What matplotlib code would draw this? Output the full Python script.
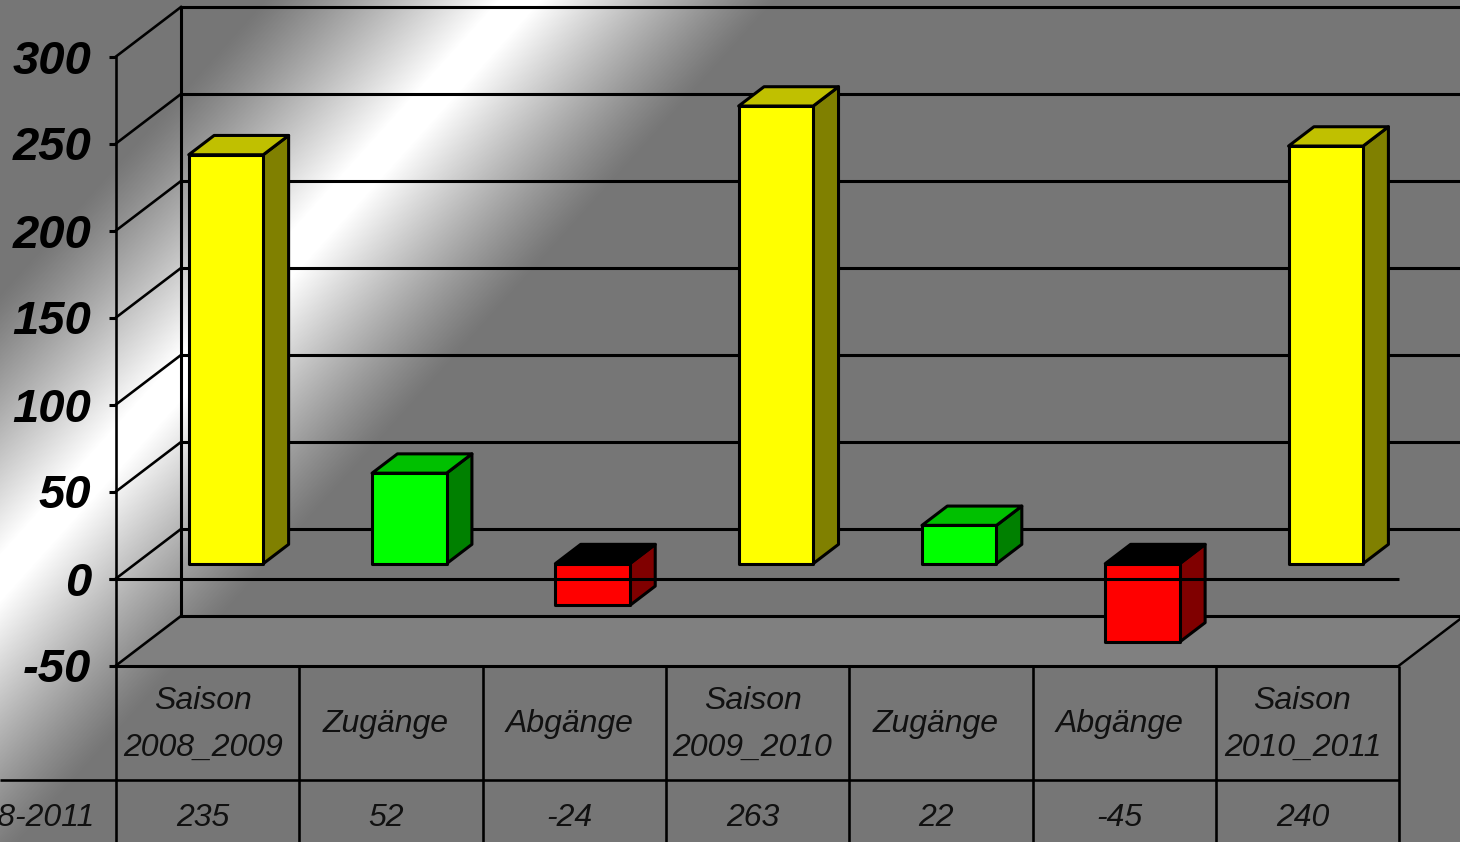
import numpy as np
import matplotlib
matplotlib.use('Agg')
import matplotlib.pyplot as plt
from matplotlib.patches import Polygon

plt.rcParams['font.family'] = ['Liberation Sans', 'DejaVu Sans']

categories = ['Saison\n2008_2009', 'Zugänge', 'Abgänge', 'Saison\n2009_2010',
              'Zugänge', 'Abgänge', 'Saison\n2010_2011']
values = [235, 52, -24, 263, 22, -45, 240]
row_label = '2008-2011'
y_ticks = [-50, 0, 50, 100, 150, 200, 250, 300]
kinds = ['season', 'in', 'out', 'season', 'in', 'out', 'season']

# front, side, top
palette = {
    'season': ('#ffff00', '#808000', '#c0c000'),
    'in': ('#00ff00', '#008000', '#00c000'),
    'out': ('#ff0000', '#800000', '#000000'),
}

W, H = 1460, 842
SLOT = 183.3          # px per category
UNIT = 1.74           # px per y unit
X0, Y0 = 116, 578.5   # front axis origin in px
DEPTH_X = 65 / SLOT   # depth of the box, in category units
DEPTH_Y = 49.5 / UNIT # depth of the box, in y units
BAR_W = 74.5 / SLOT
BAR_OFF = 0.397       # left edge of bar front in slot
BAR_D0, BAR_D1 = 0.30, 0.69
LW = 2.2
TEXT = '#111111'


def pt(slot, val, depth=0.0):
    return slot + DEPTH_X * depth, val + DEPTH_Y * depth


def to_slot(px):
    return (px - X0) / SLOT


def to_val(py):
    return (Y0 - py) / UNIT


fig = plt.figure(figsize=(W / 100, H / 100), dpi=100)
ax = fig.add_axes([0, 0, 1, 1])
ax.axis('off')

# background: grey with a diagonal white band
xx, yy = np.meshgrid(np.arange(W), np.arange(H))
t = np.abs(xx + 0.9 * yy - 520)
shade = np.clip((255 - t) / 235, 0, 1)
shade = shade ** 1.15
grey = (0x77 + (255 - 0x77) * shade) / 255
ax.imshow(grey, cmap='gray', vmin=0, vmax=1, aspect='auto', zorder=0,
          extent=(to_slot(0), to_slot(W), to_val(H), to_val(0)))
ax.set_xlim(to_slot(0), to_slot(W))
ax.set_ylim(to_val(H), to_val(0))

n = len(categories)
ymin, ymax = y_ticks[0], y_ticks[-1]

# floor
ax.add_patch(Polygon([pt(0, ymin), pt(0, ymin, 1), pt(n, ymin, 1), pt(n, ymin)],
                     closed=True, fc='#808080', ec='none', zorder=1))

# back wall grid and side wall lines
for tick in y_ticks:
    xa, ya = pt(0, tick, 1)
    xb, yb = pt(n, tick, 1)
    ax.plot([xa, xb], [ya, yb], color='black', lw=LW, zorder=2, solid_capstyle='butt')
    xf, yf = pt(0, tick)
    ax.plot([xf, xa], [yf, ya], color='black', lw=LW * 0.85, zorder=2)
    ax.plot([to_slot(109), xf], [yf, yf], color='black', lw=LW, zorder=2,
            solid_capstyle='butt')
    ax.text(to_slot(91), tick, str(tick), ha='right', va='center_baseline', fontsize=34,
            fontweight='bold', fontstyle='italic', color='black', zorder=6)

xa, ya = pt(0, ymin, 1)
xb, yb = pt(0, ymax, 1)
ax.plot([xa, xb], [ya, yb], color='black', lw=LW, zorder=2)
ax.plot([0, 0], [ymin, ymax], color='black', lw=LW * 0.85, zorder=2)
xa, ya = pt(n, ymin)
xb, yb = pt(n, ymin, 1)
ax.plot([xa, xb], [ya, yb], color='black', lw=LW * 0.8, zorder=2)

# bars
for i, (val, kind) in enumerate(zip(values, kinds)):
    front, side, top = palette[kind]
    left = i + BAR_OFF - BAR_D0 * DEPTH_X
    right = left + BAR_W
    lo, hi = min(val, 0), max(val, 0)
    box = dict(ec='black', lw=LW, joinstyle='round', zorder=3)
    ax.add_patch(Polygon([pt(right, lo, BAR_D0), pt(right, lo, BAR_D1),
                          pt(right, hi, BAR_D1), pt(right, hi, BAR_D0)],
                         closed=True, fc=side, **box))
    ax.add_patch(Polygon([pt(left, hi, BAR_D0), pt(left, hi, BAR_D1),
                          pt(right, hi, BAR_D1), pt(right, hi, BAR_D0)],
                         closed=True, fc=top, **box))
    ax.add_patch(Polygon([pt(left, lo, BAR_D0), pt(left, hi, BAR_D0),
                          pt(right, hi, BAR_D0), pt(right, lo, BAR_D0)],
                         closed=True, fc=front, **box))

# zero line runs in front of the bars
ax.plot([to_slot(109), n], [0, 0], color='black', lw=LW, zorder=4, solid_capstyle='butt')

# data table under the chart
row_y = to_val(780)
ax.plot([0, n], [ymin, ymin], color='black', lw=LW, zorder=4, solid_capstyle='butt')
ax.plot([to_slot(0), n], [row_y, row_y], color='black', lw=LW * 0.85, zorder=4,
        solid_capstyle='butt')
for i in range(n + 1):
    ax.plot([i, i], [ymin, to_val(H)], color='black', lw=LW * 0.85, zorder=4,
            solid_capstyle='butt')

for i, (cat, val) in enumerate(zip(categories, values)):
    cx = i + 0.5 - 5 / SLOT
    if '\n' in cat:
        first, second = cat.split('\n')
        ax.text(cx, to_val(701), first, ha='center', va='center', fontsize=23,
                fontstyle='italic', color=TEXT, zorder=5)
        ax.text(cx, to_val(748), second, ha='center', va='center', fontsize=23,
                fontstyle='italic', color=TEXT, zorder=5)
    else:
        ax.text(cx, to_val(724), cat, ha='center', va='center', fontsize=23,
                fontstyle='italic', color=TEXT, zorder=5)
    ax.text(cx, to_val(818), str(val), ha='center', va='center', fontsize=23,
            fontstyle='italic', color=TEXT, zorder=5)

ax.text(to_slot(94), to_val(818), row_label, ha='right', va='center', fontsize=23,
        fontstyle='italic', color=TEXT, zorder=5)

fig.savefig('out.png', dpi=100)
